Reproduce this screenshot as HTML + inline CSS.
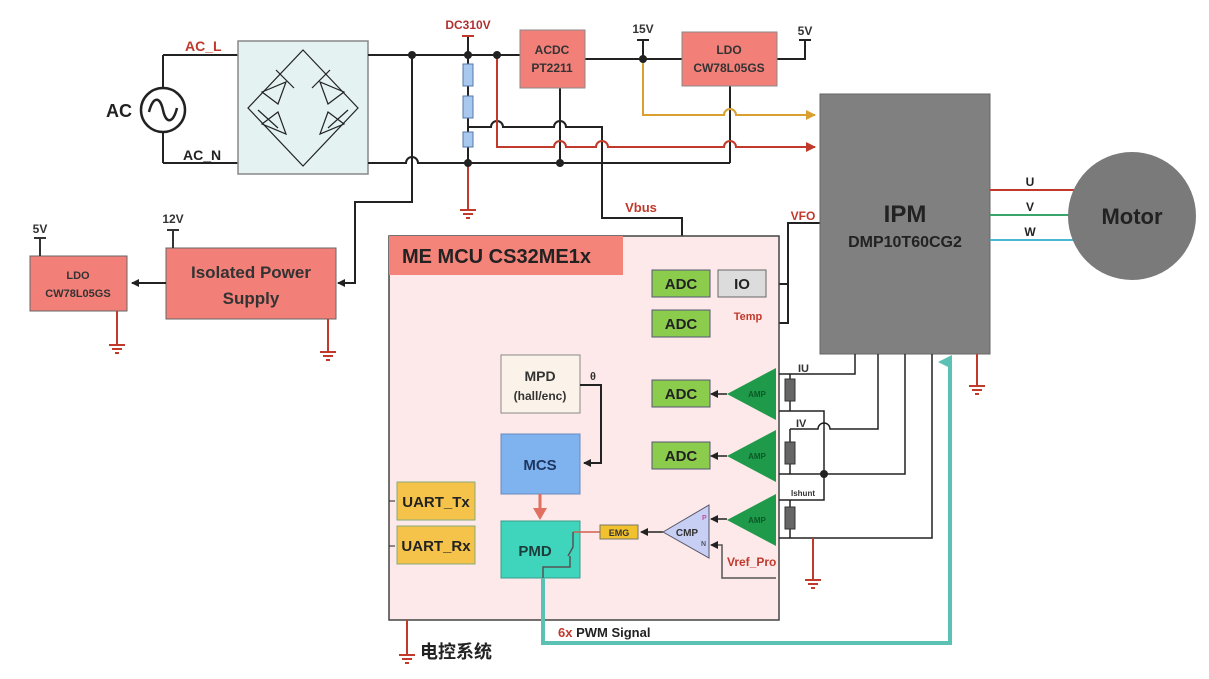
<!DOCTYPE html>
<html><head><meta charset="utf-8"><style>
body{margin:0;background:#fff}
svg{display:block}
text{font-family:"Liberation Sans","Noto Sans CJK SC",sans-serif;font-weight:bold}
</style></head><body>
<svg width="1209" height="679" viewBox="0 0 1209 679" xmlns="http://www.w3.org/2000/svg">
<defs>
<marker id="ab" markerWidth="8" markerHeight="8" refX="7" refY="4" orient="auto" markerUnits="userSpaceOnUse"><path d="M0,0 L8,4 L0,8 z" fill="#222"/></marker>
<marker id="ar" markerWidth="10" markerHeight="10" refX="9" refY="5" orient="auto" markerUnits="userSpaceOnUse"><path d="M0,0 L10,5 L0,10 z" fill="#c0392b"/></marker>
<marker id="ao" markerWidth="10" markerHeight="10" refX="9" refY="5" orient="auto" markerUnits="userSpaceOnUse"><path d="M0,0 L10,5 L0,10 z" fill="#d9a030"/></marker>
<marker id="ac" markerWidth="14" markerHeight="14" refX="7" refY="12" orient="auto" markerUnits="userSpaceOnUse"><path d="M0,14 L7,0 L14,14 z" fill="#5cc1b5"/></marker>
<g id="gnd"><path d="M-8,0 H8 M-5,4 H5 M-2,8 H2" stroke="#c0392b" stroke-width="2"/></g>
</defs>
<g fill="none" stroke="#222" stroke-width="2">
<path d="M163,55 H238 M163,163 H238 M163,55 V88 M163,132 V163"/>
<circle cx="163" cy="110" r="22" stroke-width="2.5"/>
<path d="M149,112 C153,96 160,96 163,110 C166,124 173,124 177,108" stroke-width="2.5"/>
<rect x="238" y="41" width="130" height="133" fill="#e4f2f2" stroke="#888" stroke-width="1.5"/>
<path d="M303,50 L358,108 L303,166 L248,108 Z" stroke-width="1.2"/>
<g stroke-width="1.2">
<path d="M262,92 L286,82 L278,104 Z"/><path d="M276,70 L294,88"/>
<path d="M344,92 L320,82 L328,104 Z"/><path d="M330,70 L312,88"/>
<path d="M262,124 L286,134 L278,112 Z"/><path d="M258,110 L278,128"/>
<path d="M344,124 L320,134 L328,112 Z"/><path d="M348,110 L328,128"/>
</g>
<path d="M368,55 H520"/>
<path d="M368,163 H406 a6,6 0 0 1 12,0 H730"/>
<path d="M412,55 V202 H355 V283 H338" marker-end="url(#ab)"/>
<path d="M468,36 V64 M468,86 V96 M468,118 V132 M468,147 V163"/>
<path d="M462,36 H474" stroke="#c0392b"/>
<path d="M468,163 V210" stroke="#c0392b"/>
<path d="M468,127 H491 a6,6 0 0 1 12,0 H554 a6,6 0 0 1 12,0 H602 V218 H682 V272" marker-end="url(#ab)"/>
<path d="M560,88 V163"/>
<path d="M585,59 H682"/>
<path d="M637,40 H649 M643,40 V59" />
<path d="M777,59 H805 V40 M799,40 H811"/>
<path d="M730,86 V163"/>
<path d="M820,223 H788 V323 H710" marker-end="url(#ab)"/>
<path d="M788,284 H768" marker-end="url(#ab)"/>
</g>
<path d="M497,55 V147 H554 a6,6 0 0 1 12,0 H596 a6,6 0 0 1 12,0 H724 a6,6 0 0 1 12,0 H815" fill="none" stroke="#c0392b" stroke-width="2" marker-end="url(#ar)"/>
<path d="M643,59 V115 H724 a6,6 0 0 1 12,0 H815" fill="none" stroke="#d9a030" stroke-width="2" marker-end="url(#ao)"/>
<g fill="#222"><circle cx="412" cy="55" r="4"/><circle cx="468" cy="55" r="4"/><circle cx="497" cy="55" r="4"/><circle cx="468" cy="163" r="4"/><circle cx="560" cy="163" r="4"/><circle cx="643" cy="59" r="4"/><circle cx="824" cy="474" r="4"/></g>
<g fill="#a9c8ee" stroke="#5577aa" stroke-width="1"><rect x="463" y="64" width="10" height="22"/><rect x="463" y="96" width="10" height="22"/><rect x="463" y="132" width="10" height="15"/></g>
<use href="#gnd" x="468" y="210"/>
<rect x="520" y="30" width="65" height="58" fill="#f28079" stroke="#888"/>
<text x="552" y="54" font-size="12" text-anchor="middle" fill="#333">ACDC</text>
<text x="552" y="72" font-size="12" text-anchor="middle" fill="#333">PT2211</text>
<rect x="682" y="32" width="95" height="54" fill="#f28079" stroke="#888"/>
<text x="729" y="54" font-size="12" text-anchor="middle" fill="#333">LDO</text>
<text x="729" y="72" font-size="12" text-anchor="middle" fill="#333">CW78L05GS</text>
<text x="468" y="29" font-size="12" text-anchor="middle" fill="#b03030">DC310V</text>
<text x="643" y="33" font-size="12" text-anchor="middle" fill="#333">15V</text>
<text x="805" y="35" font-size="12" text-anchor="middle" fill="#333">5V</text>
<text x="185" y="51" font-size="14" fill="#c0392b">AC_L</text>
<text x="183" y="160" font-size="14" fill="#222">AC_N</text>
<text x="106" y="117" font-size="18" fill="#222">AC</text>
<rect x="166" y="248" width="170" height="71" fill="#f28079" stroke="#666"/>
<text x="251" y="278" font-size="17" text-anchor="middle" fill="#333">Isolated Power</text>
<text x="251" y="304" font-size="17" text-anchor="middle" fill="#333">Supply</text>
<path d="M166,283 H132" stroke="#222" stroke-width="2" marker-end="url(#ab)"/>
<rect x="30" y="256" width="97" height="55" fill="#f28079" stroke="#666"/>
<text x="78" y="279" font-size="11" text-anchor="middle" fill="#333">LDO</text>
<text x="78" y="297" font-size="11" text-anchor="middle" fill="#333">CW78L05GS</text>
<path d="M173,230 V248 M167,230 H179 M40,238 V256 M34,238 H46" stroke="#333" stroke-width="2"/>
<text x="173" y="223" font-size="12" text-anchor="middle" fill="#333">12V</text>
<text x="40" y="233" font-size="12" text-anchor="middle" fill="#333">5V</text>
<path d="M117,311 V345 M328,319 V352" stroke="#c0392b" stroke-width="2"/>
<use href="#gnd" x="117" y="345"/><use href="#gnd" x="328" y="352"/>
<rect x="820" y="94" width="170" height="260" fill="#808080" stroke="#666"/>
<text x="905" y="222" font-size="24" text-anchor="middle" fill="#222">IPM</text>
<text x="905" y="247" font-size="16" text-anchor="middle" fill="#222">DMP10T60CG2</text>
<path d="M990,190 H1075" stroke="#c0392b" stroke-width="2"/>
<path d="M990,215 H1075" stroke="#3aa56a" stroke-width="2"/>
<path d="M990,240 H1075" stroke="#4ab8d0" stroke-width="2"/>
<text x="1030" y="186" font-size="12" text-anchor="middle" fill="#222">U</text>
<text x="1030" y="211" font-size="12" text-anchor="middle" fill="#222">V</text>
<text x="1030" y="236" font-size="12" text-anchor="middle" fill="#222">W</text>
<circle cx="1132" cy="216" r="64" fill="#7a7a7a"/>
<text x="1132" y="224" font-size="22" text-anchor="middle" fill="#222">Motor</text>
<path d="M977,354 V386" stroke="#c0392b" stroke-width="2"/><use href="#gnd" x="977" y="386"/>
<text x="803" y="220" font-size="12" text-anchor="middle" fill="#c0392b">VFO</text>
<text x="641" y="212" font-size="13" text-anchor="middle" fill="#c0392b">Vbus</text>
<rect x="389" y="236" width="390" height="384" fill="#fde9e9" stroke="#444" stroke-width="1.5"/>
<rect x="389" y="236" width="234" height="39" fill="#f4847a"/>
<text x="402" y="263" font-size="20" fill="#222">ME MCU CS32ME1x</text>
<g font-size="15" text-anchor="middle" fill="#222">
<rect x="652" y="270" width="58" height="27" fill="#8ccc4c" stroke="#557"/><text x="681" y="289">ADC</text>
<rect x="718" y="270" width="48" height="27" fill="#dcdcdc" stroke="#666"/><text x="742" y="289">IO</text>
<rect x="652" y="310" width="58" height="27" fill="#8ccc4c" stroke="#557"/><text x="681" y="329">ADC</text>
<rect x="652" y="380" width="58" height="27" fill="#8ccc4c" stroke="#557"/><text x="681" y="399">ADC</text>
<rect x="652" y="442" width="58" height="27" fill="#8ccc4c" stroke="#557"/><text x="681" y="461">ADC</text>
</g>
<text x="748" y="320" font-size="11" text-anchor="middle" fill="#c0392b">Temp</text>
<rect x="501" y="355" width="79" height="58" fill="#fbf3e9" stroke="#888"/>
<text x="540" y="381" font-size="14" text-anchor="middle" fill="#333">MPD</text>
<text x="540" y="400" font-size="12" text-anchor="middle" fill="#333">(hall/enc)</text>
<text x="590" y="380" font-size="11" fill="#333">θ</text>
<path d="M580,385 H601 V463 H584" fill="none" stroke="#222" stroke-width="2" marker-end="url(#ab)"/>
<rect x="501" y="434" width="79" height="60" fill="#7fb3f0" stroke="#6a8ac0"/>
<text x="540" y="470" font-size="15" text-anchor="middle" fill="#1d3660">MCS</text>
<path d="M540,494 V518" stroke="#e07060" stroke-width="3"/><path d="M533,508 L540,520 L547,508 Z" fill="#e07060"/>
<rect x="501" y="521" width="79" height="57" fill="#3fd5bd" stroke="#3a9a8a"/>
<text x="535" y="556" font-size="15" text-anchor="middle" fill="#1d3d3a">PMD</text>
<rect x="397" y="482" width="78" height="38" fill="#f5c34a" stroke="#8a7"/><text x="436" y="507" font-size="15" text-anchor="middle" fill="#222">UART_Tx</text>
<rect x="397" y="526" width="78" height="38" fill="#f5c34a" stroke="#8a7"/><text x="436" y="551" font-size="15" text-anchor="middle" fill="#222">UART_Rx</text>
<path d="M389,501 H395 M389,546 H395" stroke="#222"/>
<path d="M573,532 H600" stroke="#d06050" stroke-width="1.5"/>
<path d="M573,532 V547 L568,556 M570,556 V567 H543 V578" fill="none" stroke="#555" stroke-width="1.5"/>
<rect x="600" y="525" width="38" height="14" fill="#f2c12e" stroke="#776"/><text x="619" y="536" font-size="9" text-anchor="middle" fill="#333">EMG</text>
<path d="M663,532 H641" stroke="#222" stroke-width="1.5" marker-end="url(#ab)"/>
<path d="M663,532 L709,505 L709,558 Z" fill="#c7cff5" stroke="#556"/>
<text x="687" y="536" font-size="10" text-anchor="middle" fill="#333">CMP</text>
<text x="702" y="520" font-size="7" fill="#c050a0">P</text><text x="701" y="546" font-size="7" fill="#556">N</text>
<path d="M727,519 H711" stroke="#222" stroke-width="1.5" marker-end="url(#ab)"/>
<path d="M776,578 H722 V545 H711" fill="none" stroke="#555" stroke-width="1.5" marker-end="url(#ab)"/>
<text x="727" y="566" font-size="12" fill="#c0392b">Vref_Pro</text>
<g fill="#1f9a4a"><path d="M727,394 L776,368 L776,420 Z"/><path d="M727,456 L776,430 L776,482 Z"/><path d="M727,520 L776,494 L776,546 Z"/></g>
<g font-size="8" fill="#0b5a25" text-anchor="middle"><text x="757" y="397">AMP</text><text x="757" y="459">AMP</text><text x="757" y="523">AMP</text></g>
<path d="M727,394 H711" stroke="#222" stroke-width="1.5" marker-end="url(#ab)"/>
<path d="M727,456 H711" stroke="#222" stroke-width="1.5" marker-end="url(#ab)"/>
<g fill="none" stroke="#222" stroke-width="1.5">
<path d="M779,374 H855 V354 M779,411 H824 V474 M790,429 H818 a6,6 0 0 1 12,0 H878 V354 M779,474 H905 V354 M779,500 H824 V474 M779,538 H932 V354"/>
<path d="M790,374 V411 M790,429 V474 M790,500 V538"/>
</g>
<g fill="#666" stroke="#333"><rect x="785" y="379" width="10" height="22"/><rect x="785" y="442" width="10" height="22"/><rect x="785" y="507" width="10" height="22"/></g>
<text x="798" y="372" font-size="11" fill="#333">IU</text>
<text x="796" y="427" font-size="11" fill="#333">IV</text>
<text x="791" y="496" font-size="8" fill="#333">Ishunt</text>
<path d="M813,538 V580" stroke="#c0392b" stroke-width="2"/><use href="#gnd" x="813" y="580"/>
<path d="M407,620 V655" stroke="#c0392b" stroke-width="2"/><use href="#gnd" x="407" y="655"/>
<text x="420" y="658" font-size="18" fill="#222">电控系统</text>
<path d="M543,578 V643 H950 V362" fill="none" stroke="#5cc1b5" stroke-width="4" marker-end="url(#ac)"/>
<text x="558" y="637" font-size="13" fill="#222"><tspan fill="#c0392b">6x</tspan> PWM Signal</text>
</svg>
</body></html>
